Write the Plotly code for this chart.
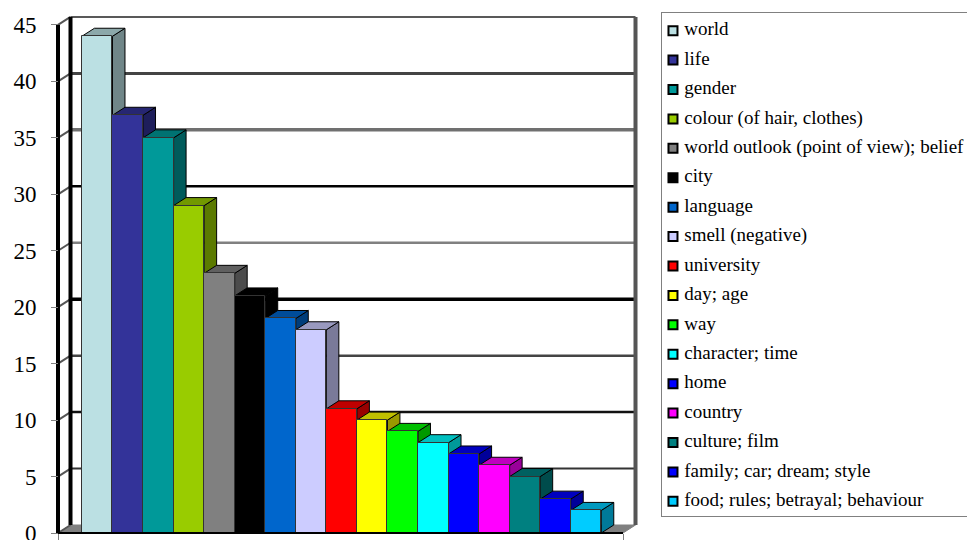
import plotly.graph_objects as go

categories = ["world", "life", "gender", "colour (of hair, clothes)", "world outlook (point of view); belief",
              "city", "language", "smell (negative)", "university", "day; age", "way", "character; time",
              "home", "country", "culture; film", "family; car; dream; style", "food; rules; betrayal; behaviour"]
values = [44, 37, 35, 29, 23, 21, 19, 18, 11, 10, 9, 8, 7, 6, 5, 3, 2]
colors = ["#BBE0E3", "#333399", "#009999", "#99CC00", "#808080", "#000000", "#0066CC", "#CCCCFF", "#FF0000",
          "#FFFF00", "#00FF00", "#00FFFF", "#0000FF", "#FF00FF", "#008080", "#0000FF", "#00CCFF"]
y_ticks = [0, 5, 10, 15, 20, 25, 30, 35, 40, 45]
grid_colors = {5: "#333333", 10: "#111111", 15: "#444444", 20: "#000000", 25: "#808080",
               30: "#000000", 35: "#707070", 40: "#444444", 45: "#222222"}
grid_widths = {5: 2, 10: 2.5, 15: 2.5, 20: 3.5, 25: 2.5, 30: 2.5, 35: 3.5, 40: 3, 45: 1.5}

W, H = 967, 540
step = 30.55
unit = 11.29
x_first = 97.2
L_px, R_front_px = 58, 623
clip_l, clip_r = 52, 642
top_px, base_px, clip_b = 14, 533, 536
lb_px = 516
mt = 13
mb = H - clip_b

xleft = (L_px - x_first) / step
xfront = (R_front_px - x_first) / step
x_range = [(clip_l - x_first) / step, (clip_r - x_first) / step]
y_range = [(base_px - clip_b) / unit, (base_px - top_px) / unit]
dx = 12.5 / step
dy = 8 / unit
half = 0.5


def shade(c, f):
    return "#%02X%02X%02X" % tuple(int(int(c[i:i + 2], 16) * f) for i in (1, 3, 5))


fig = go.Figure()
main = dict(xaxis="x", yaxis="y", showlegend=False, hoverinfo="skip", cliponaxis=False)

# floor
fig.add_scatter(x=[xleft, xfront, xfront + dx, xleft + dx, xleft], y=[0, 0, dy, dy, 0], mode="lines", fill="toself",
                fillcolor="#808080", line=dict(color="#808080", width=1), **main)
# back wall gridlines
for v in y_ticks[1:]:
    fig.add_scatter(x=[xleft + dx, xfront + dx], y=[v + dy, v + dy], mode="lines",
                    line=dict(color=grid_colors[v], width=grid_widths[v]), **main)
# connectors on the left wall
cx, cy = [], []
for v in y_ticks:
    cx += [xleft, xleft + dx, None]
    cy += [v, v + dy, None]
fig.add_scatter(x=cx, y=cy, mode="lines", line=dict(color="#555555", width=2), **main)
# walls
fig.add_scatter(x=[xleft, xleft], y=[0, 45], mode="lines", line=dict(color="#000000", width=4), **main)
fig.add_scatter(x=[xleft + dx, xleft + dx], y=[dy, 45 + dy], mode="lines", line=dict(color="#000000", width=4), **main)
fig.add_scatter(x=[xfront + dx, xfront + dx], y=[dy, 45 + dy], mode="lines", line=dict(color="#555555", width=4), **main)

# side and top faces of the bars
for i, (v, c) in enumerate(zip(values, colors)):
    a, b = i - half, i + half
    fig.add_scatter(x=[b, b + dx, b + dx, b, b], y=[0, dy, v + dy, v, 0], mode="lines", fill="toself",
                    fillcolor=shade(c, 0.6), line=dict(color="#000000", width=1), **main)
    fig.add_scatter(x=[a, a + dx, b + dx, b, a], y=[v, v + dy, v + dy, v, v], mode="lines", fill="toself",
                    fillcolor=shade(c, 0.75), line=dict(color="#000000", width=1), **main)

# front faces
fig.add_bar(x=list(range(len(values))), y=values, width=1, marker=dict(color=colors, line=dict(color="#333333", width=1)),
            xaxis="x2", yaxis="y2", showlegend=False, hoverinfo="skip", cliponaxis=False)
# front axis line
fig.add_scatter(x=[xleft, xfront], y=[0, 0], mode="lines", line=dict(color="#000000", width=2), xaxis="x2", yaxis="y2",
                showlegend=False, hoverinfo="skip", cliponaxis=False)

# key
rows = list(range(len(categories)))
fig.add_scatter(x=[0.036] * len(rows), y=rows, mode="markers",
                marker=dict(symbol="square", size=9, color=colors, line=dict(color="#000000", width=2)),
                xaxis="x3", yaxis="y3", showlegend=False, hoverinfo="skip", cliponaxis=False)
fig.add_scatter(x=[0.073] * len(rows), y=rows, mode="text", text=categories, textposition="middle right",
                textfont=dict(family="Liberation Serif", size=19, color="#000000"),
                xaxis="x3", yaxis="y3", showlegend=False, hoverinfo="skip", cliponaxis=False)

plot_w = W - clip_l
plot_h = H - mt - mb
x_dom = [0, (clip_r - clip_l) / plot_w]
y_dom = [0, (clip_b - top_px) / plot_h]
fig.update_layout(
    width=W, height=H, autosize=False, margin=dict(l=clip_l, r=0, t=mt, b=mb, pad=0, autoexpand=False),
    paper_bgcolor="white", plot_bgcolor="rgba(0,0,0,0)", barmode="overlay", bargap=0,
    font=dict(family="Liberation Serif", color="#000000"),
    xaxis=dict(domain=x_dom, range=x_range, anchor="free", position=(clip_b - base_px) / plot_h, showgrid=False,
               zeroline=False, showline=False, tickmode="array", tickvals=[xleft, xfront], ticktext=["", ""],
               ticks="outside", ticklen=7, tickcolor="#808080", tickwidth=1, automargin=False),
    yaxis=dict(domain=y_dom, range=y_range, anchor="free", position=(L_px - clip_l) / plot_w, showgrid=False,
               zeroline=False, showline=False, tickmode="array", tickvals=y_ticks, ticks="outside", ticklen=7,
               tickcolor="#808080", tickwidth=1, ticklabeloverflow="allow", automargin=False,
               tickfont=dict(size=23, family="Liberation Serif", color="#000000"), ticklabelstandoff=10),
    xaxis2=dict(overlaying="x", range=x_range, visible=False),
    yaxis2=dict(overlaying="y", range=y_range, visible=False),
    xaxis3=dict(domain=[(662 - clip_l) / plot_w, 1], range=[0, 1], anchor="y3", showgrid=False, zeroline=False,
                showticklabels=False, ticks="", showline=True, mirror=True, linecolor="#808080", linewidth=1),
    yaxis3=dict(domain=[(clip_b - lb_px) / plot_h, 1], range=[16.5, -0.6], anchor="x3", showgrid=False,
                zeroline=False, showticklabels=False, ticks="", showline=True, mirror=True, linecolor="#808080",
                linewidth=1),
)
fig.write_html("out.html", config=dict(displayModeBar=False),
               post_script="document.documentElement.style.margin='0';document.body.style.margin='0';document.body.style.overflow='hidden';")
